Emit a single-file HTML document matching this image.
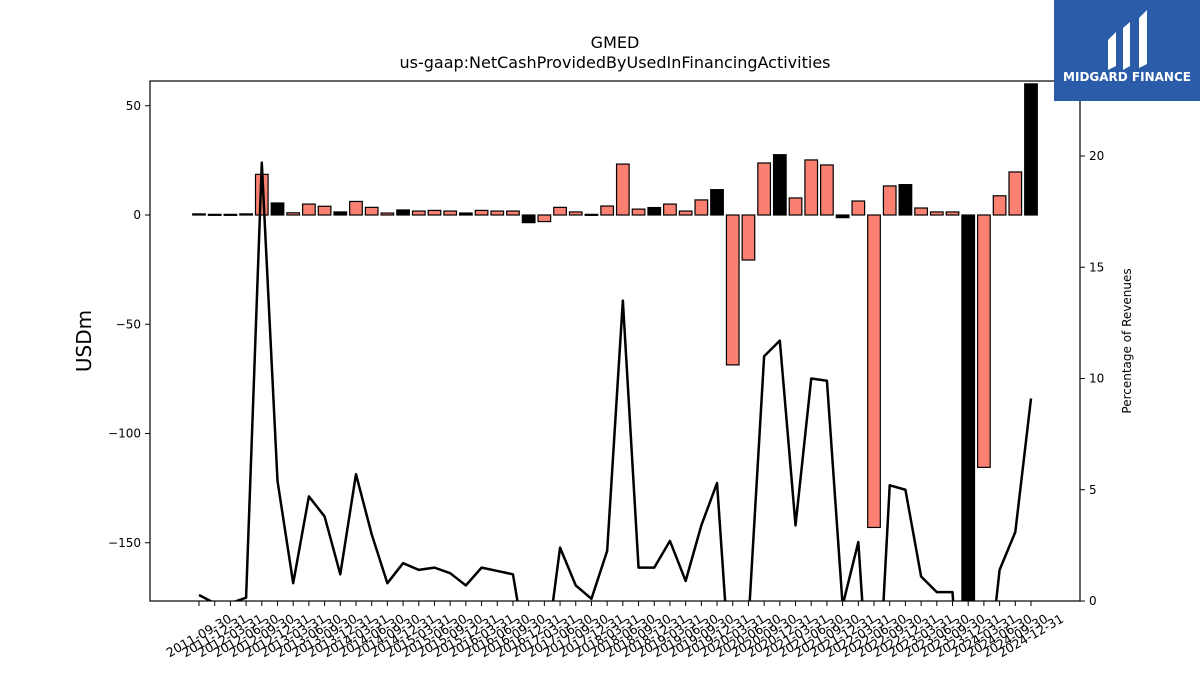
<!DOCTYPE html>
<html><head><meta charset="utf-8"><style>
body{margin:0;background:#fff;font-family:"Liberation Sans","DejaVu Sans",sans-serif;overflow:hidden}
svg{display:block}
svg text{font-family:"DejaVu Sans","Liberation Sans",sans-serif}
</style></head><body>
<svg id="chart" width="1200" height="675" viewBox="0 0 1200 675" xmlns="http://www.w3.org/2000/svg">
<defs><clipPath id="pc"><rect x="150" y="81" width="930" height="520"/></clipPath></defs>
<text x="615" y="48" text-anchor="middle" font-size="16">GMED</text>
<text x="615" y="68" text-anchor="middle" font-size="16">us-gaap:NetCashProvidedByUsedInFinancingActivities</text>
<text transform="translate(91,341) rotate(-90)" text-anchor="middle" font-size="20">USDm</text>
<text transform="translate(1131,341) rotate(-90)" text-anchor="middle" font-size="12">Percentage of Revenues</text>
<g id="bars" clip-path="url(#pc)"></g>
<g id="line" clip-path="url(#pc)"></g>
<rect x="150" y="81" width="930" height="520" fill="none" stroke="#000" stroke-width="1.2"/>
<g id="axes"></g>
<g>
<rect x="1054" y="0" width="146" height="101" fill="#2a5caa"/>
<path d="M1108 40 L1116 32 L1116 66 L1108 70 Z M1123 28 L1130 22 L1130 66 L1123 70 Z M1139 18 L1147 10 L1147 64 L1139 68 Z" fill="#fff"/>
<text x="1127" y="81" text-anchor="middle" font-size="12" font-weight="bold" fill="#fff">MIDGARD FINANCE</text>
</g>
</svg>
<script>
const categories=[];
(function(){let y=2011,q=3;const e=['03-31','06-30','09-30','12-31'];for(let i=0;i<54;i++){categories.push(y+'-'+e[q-1]);q++;if(q>4){q=1;y++;}}})();
const barValues=[0.5,0.3,0.3,0.5,18.6,5.5,1,5,4,1.4,6.2,3.5,0.9,2.3,1.8,2.1,1.8,0.9,2.1,1.8,1.8,-3.5,-3,3.5,1.4,0.3,4.1,23.3,2.7,3.4,5,1.8,6.9,11.6,-68.6,-20.6,23.8,27.6,7.8,25.2,22.9,-1.2,6.4,-143,13.3,13.9,3.2,1.4,1.4,-200,-115.5,8.8,19.7,60];
const barBlack=[1,1,1,1,0,1,0,0,0,1,0,0,0,1,0,0,0,1,0,0,0,1,0,0,0,1,0,0,0,1,0,0,0,1,0,0,0,1,0,0,0,1,0,0,0,1,0,0,0,1,0,0,0,1];
const pctValues=[0.27,-0.1,-0.1,0.15,19.7,5.4,0.8,4.7,3.8,1.2,5.7,3.0,0.8,1.7,1.4,1.5,1.25,0.7,1.5,1.35,1.2,-3,-3,2.4,0.7,0.1,2.25,13.5,1.5,1.5,2.7,0.9,3.4,5.3,-5,-1,11.0,11.7,3.4,10.0,9.9,-0.2,2.65,-8,5.2,5.0,1.1,0.4,0.4,-10,-5,1.4,3.1,9.1];
const leftTicks=[50,0,-50,-100,-150];
const rightTicks=[0,5,10,15,20];
const NS='http://www.w3.org/2000/svg';
const x=i=>199+i*(832/53);
const yL=v=>215-v*2.185;
const yR=v=>601-v*22.25;
function mk(t,a,p){const e=document.createElementNS(NS,t);for(const k in a)e.setAttribute(k,a[k]);p.appendChild(e);return e;}
const bars=document.getElementById('bars'),line=document.getElementById('line'),axes=document.getElementById('axes');
barValues.forEach((v,i)=>{const y0=yL(0),y1=yL(v);
const r=mk('rect',{x:x(i)-6.3,y:Math.min(y0,y1),width:12.6,height:Math.max(Math.abs(y1-y0),1),fill:barBlack[i]?'#000':'#fa8072',stroke:'#000','stroke-width':1.2},bars);

});
const pl=mk('polyline',{points:pctValues.map((v,i)=>x(i)+','+yR(v)).join(' '),fill:'none',stroke:'#000','stroke-width':2.5,'stroke-linejoin':'round'},line);


leftTicks.forEach(v=>{mk('line',{x1:145,x2:150,y1:yL(v),y2:yL(v),stroke:'#000'},axes);
const t=mk('text',{x:141,y:yL(v)+4,'text-anchor':'end','font-size':12},axes);t.textContent=(v<0?'\u2212':'')+Math.abs(v);

});
rightTicks.forEach(v=>{mk('line',{x1:1080,x2:1085,y1:yR(v),y2:yR(v),stroke:'#000'},axes);
const t=mk('text',{x:1089,y:yR(v)+4,'font-size':12},axes);t.textContent=v;

});
categories.forEach((c,i)=>{mk('line',{x1:x(i),x2:x(i),y1:601,y2:606,stroke:'#000'},axes);
const t=mk('text',{transform:'translate('+x(i)+',636) rotate(-30)','text-anchor':'middle','font-size':12.5,dy:4},axes);t.textContent=c;

});
</script>
</body></html>
